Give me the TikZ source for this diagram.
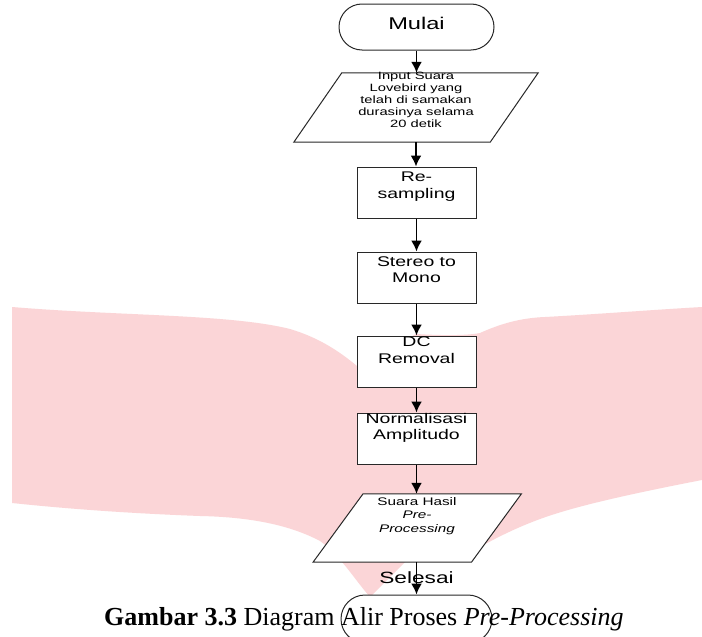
\documentclass[tikz,border=0pt]{standalone}
\usepackage{fontspec}
\usetikzlibrary{arrows.meta}
\newfontfamily\fc[FakeStretch=1.39]{Liberation Sans}
\newfontfamily\capfont{Liberation Serif}
\definecolor{wm}{RGB}{251,213,215}
\definecolor{edge}{RGB}{40,40,40}
\tikzset{
  term/.style={draw=edge, line width=1pt, rounded corners=23pt, minimum width=155pt, minimum height=46pt, inner sep=0pt, fill=white},
  proc/.style={draw=edge, line width=1pt, minimum width=119pt, minimum height=51pt, inner sep=0pt, fill=white},
  iobox/.style={inner sep=0pt, draw=none},
  ioline/.style={draw=edge, line width=1pt, fill=white},
  flow/.style={-{Latex[length=11pt,width=11pt]}, line width=1.8pt, black},
  lbl/.style={inner sep=0pt, align=center, text=black}
}
\begin{document}
\begin{tikzpicture}[x=1pt,y=-1pt]
\useasboundingbox (0,0) rectangle (702,637);
\fill[white] (0,0) rectangle (702,637);
% watermark
\fill[wm] (12,307) .. controls (120,316) and (230,314) .. (290,329)
  .. controls (320,338) and (340,352) .. (357,366) -- (416,334)
  .. controls (450,336) and (470,335) .. (480,333)
  .. controls (500,324) and (520,318) .. (545,317)
  .. controls (600,314) and (650,310) .. (702,307) -- (702,480)
  .. controls (640,492) and (590,503) .. (558,513)
  .. controls (525,523) and (495,538) .. (475,550) -- (405,562) -- (370,597)
  .. controls (355,580) and (340,555) .. (320,541)
  .. controls (290,525) and (250,517) .. (200,516)
  .. controls (120,513) and (60,508) .. (12,503) -- cycle;

% shapes
\node[term] (mulai) at (416.5,27) {};
\node[iobox, minimum width=196pt, minimum height=69pt] (in) at (416,107.5) {};
\path[ioline] ([xshift=24pt]in.north west) -- ([xshift=24pt]in.north east) -- ([xshift=-24pt]in.south east) -- ([xshift=-24pt]in.south west) -- cycle;
\node[proc] (rs) at (416.5,192.5) {};
\node[proc] (sm) at (416.5,277.5) {};
\node[proc] (dc) at (416.5,361.5) {};
\node[proc] (na) at (416.5,438.5) {};
\node[iobox, minimum width=158pt, minimum height=68pt] (out) at (417.25,528) {};
\path[ioline] ([xshift=25pt]out.north west) -- ([xshift=25pt]out.north east) -- ([xshift=-25pt]out.south east) -- ([xshift=-25pt]out.south west) -- cycle;
\node[term, minimum width=151pt, minimum height=48pt, rounded corners=24pt] (selesai) at (416.5,619) {};

% texts
\node[lbl, anchor=base, font=\fc\fontsize{17}{20}\selectfont] (tmulai) at (416.5,30) {Mulai};
\node[lbl, anchor=north, font=\fc\fontsize{10.6}{12}\selectfont] (tin) at (416,72.3) {Input Suara\\Lovebird yang\\telah di samakan\\durasinya selama\\20 detik};
\node[lbl, anchor=north, font=\fc\fontsize{14}{16.5}\selectfont] (trs) at (416.5,171.7) {Re-\\sampling};
\node[lbl, anchor=north, font=\fc\fontsize{14}{15.5}\selectfont] (tsm) at (416.5,256.7) {Stereo to\\Mono};
\node[lbl, anchor=north, font=\fc\fontsize{14}{17}\selectfont] (tdc) at (416.5,337) {DC\\Removal};
\node[lbl, anchor=north, font=\fc\fontsize{14}{15.7}\selectfont] (tna) at (416.5,413.5) {Normalisasi\\Amplitudo};
\node[lbl, anchor=north, font=\fc\fontsize{11}{13.8}\selectfont] (tout) at (417,497) {Suara Hasil\\\textit{Pre-}\\\textit{Processing}};
\node[lbl, anchor=base, font=\fc\fontsize{16.3}{19}\selectfont] (tsel) at (416.5,583) {Selesai};

% connectors
\draw[flow] (mulai.south) -- (mulai.south |- in.north);
\draw[flow] (in.south) -- (in.south |- rs.north);
\draw[flow] (rs) -- (sm);
\draw[flow] (sm) -- (dc);
\draw[flow] (dc) -- (na);
\draw[flow] (na.south) -- (na.south |- out.north);
\draw[flow] (out.south -| selesai.north) -- (selesai.north);

% caption
\node[anchor=base west, inner sep=0pt, font=\capfont\fontsize{26}{30}\selectfont] (cap) at (104,625) {\textbf{Gambar 3.3} Diagram Alir Proses \textit{Pre-Processing}};
\end{tikzpicture}
\end{document}
